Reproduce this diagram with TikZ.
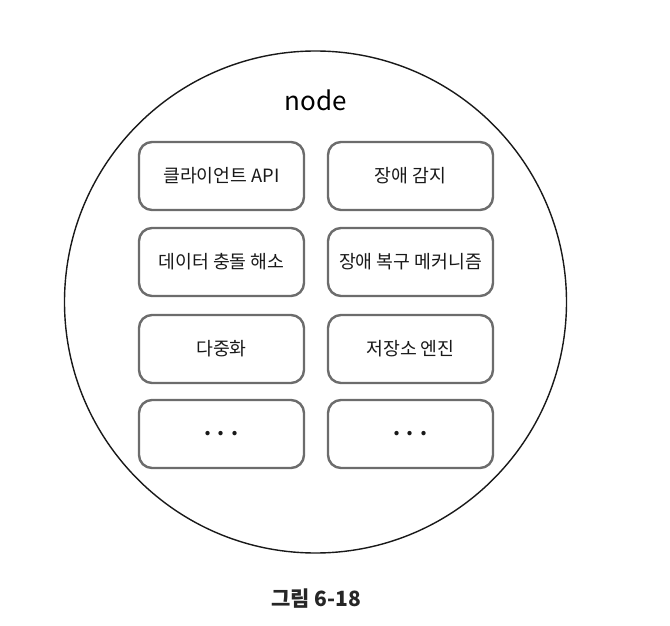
\documentclass[tikz,border=0pt]{standalone}
\usepackage{fontspec}
\setmainfont{Noto Sans CJK KR}
\begin{document}
\begin{tikzpicture}[x=1pt,y=-1pt,
  compbox/.style={draw=gray!85!black, line width=2.4pt, rounded corners=13pt,
    minimum width=165pt, minimum height=68pt, inner sep=0pt, fill=white,
    font=\fontsize{18.3}{21}\selectfont, text=black!90},
  outer/.style={draw=black!90, line width=1.4pt}]
\useasboundingbox (0,0) rectangle (670,626);
\node[outer, circle, minimum size=502pt, inner sep=0pt] (nodecircle) at (315.5,302) {};
\node[font=\fontsize{26}{30}\selectfont] (title) at (316,100) {node};
\node[compbox] (api) at (221.5,176) {클라이언트 API};
\node[compbox] (detect) at (410.5,176) {장애 감지};
\node[compbox] (conflict) at (221.5,262) {데이터 충돌 해소};
\node[compbox] (recover) at (410.5,262) {장애 복구 메커니즘};
\node[compbox] (repl) at (221.5,349) {다중화};
\node[compbox] (storage) at (410.5,349) {저장소 엔진};
\node[compbox, font=\bfseries\fontsize{20}{22}\selectfont] (more1) at (221.5,434) {.\hspace{6pt}.\hspace{6pt}.};
\node[compbox, font=\bfseries\fontsize{20}{22}\selectfont] (more2) at (410.5,434) {.\hspace{6pt}.\hspace{6pt}.};
\node[font=\bfseries\fontsize{21}{24}\selectfont, text=black!85] (caption) at (316,599) {그림 6-18};
\end{tikzpicture}
\end{document}
